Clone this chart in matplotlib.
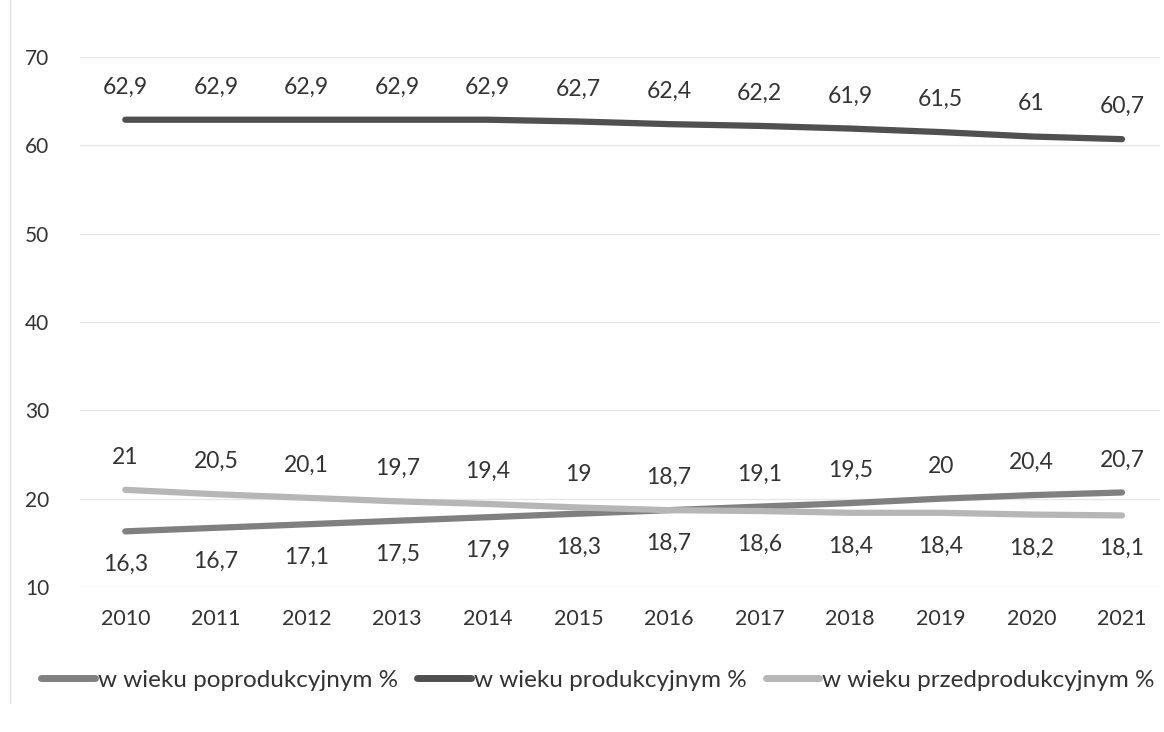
import matplotlib
matplotlib.use("Agg")
import matplotlib.pyplot as plt
from matplotlib.lines import Line2D

plt.rcParams["font.family"] = ["Lato", "DejaVu Sans"]

years = [2010, 2011, 2012, 2013, 2014, 2015, 2016, 2017, 2018, 2019, 2020, 2021]
poprodukcyjny = [16.3, 16.7, 17.1, 17.5, 17.9, 18.3, 18.7, 19.1, 19.5, 20, 20.4, 20.7]
produkcyjny = [62.9, 62.9, 62.9, 62.9, 62.9, 62.7, 62.4, 62.2, 61.9, 61.5, 61, 60.7]
przedprodukcyjny = [21, 20.5, 20.1, 19.7, 19.4, 19, 18.7, 18.6, 18.4, 18.4, 18.2, 18.1]
series_names = ["w wieku poprodukcyjnym %", "w wieku produkcyjnym %",
                "w wieku przedprodukcyjnym %"]
y_ticks = [10, 20, 30, 40, 50, 60, 70]

text_color = "#333333"
colors = ["#808080", "#505050", "#b6b6b6"]

fig = plt.figure(figsize=(11.64, 7.32), dpi=100)
ax = fig.add_axes([80 / 1164, 1 - 587 / 732, 1080 / 1164, 530 / 732])

x = list(range(len(years)))

def fmt(v):
    return f"{v:g}".replace(".", ",")

def draw(values, color, above_fn):
    ax.plot(x, values, color=color, lw=4.5, solid_capstyle="round", zorder=3)
    for i, v in enumerate(values):
        above = above_fn(i)
        ax.annotate(fmt(v), (i, v), xytext=(0, 23.5 if above else -24),
                    textcoords="offset points", ha="center", va="center",
                    fontsize=16.5, color=text_color)

draw(poprodukcyjny, colors[0], lambda i: poprodukcyjny[i] >= przedprodukcyjny[i])
draw(produkcyjny, colors[1], lambda i: True)
draw(przedprodukcyjny, colors[2], lambda i: przedprodukcyjny[i] > poprodukcyjny[i])

ax.set_ylim(10, 70)
ax.set_xlim(-0.5, 11 + 38 / 90.6)
ax.set_yticks(y_ticks)
ax.set_xticks(x)
ax.set_xticklabels([str(y) for y in years])
ax.grid(axis="y", color="#e6e6e6", lw=1)
ax.set_axisbelow(True)
for s in ax.spines.values():
    s.set_visible(False)
ax.tick_params(axis="both", length=0, labelcolor=text_color)
ax.tick_params(axis="x", labelsize=15.5, pad=16)
ax.tick_params(axis="y", labelsize=15, pad=22)

handles = [Line2D([], [], color=c, lw=5, solid_capstyle="round") for c in colors]
fig.legend(handles, series_names, loc="center", ncol=3, frameon=False,
           bbox_to_anchor=(598 / 1164, 1 - 680 / 732), fontsize=17.5,
           labelcolor=text_color, handlelength=2.2, handletextpad=0.12,
           columnspacing=0.8)

fig.add_artist(Line2D([10 / 1164, 10 / 1164], [0.04, 1.0], color="#e0e0e0", lw=1,
                      transform=fig.transFigure))

fig.savefig("out.png", dpi=100, facecolor="white")
